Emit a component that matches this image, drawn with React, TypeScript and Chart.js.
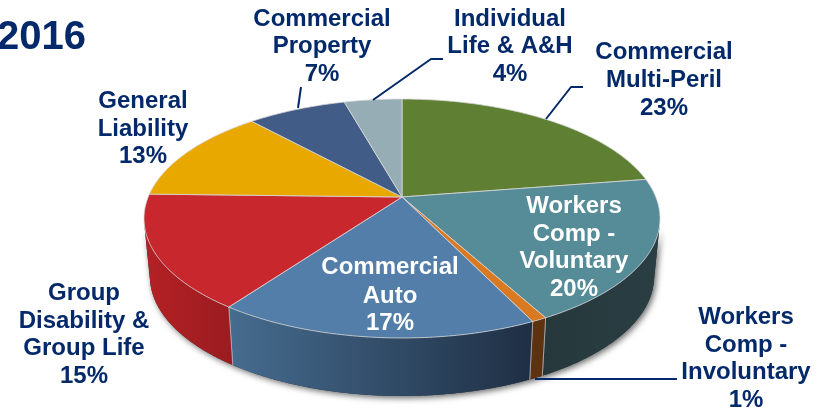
import React, { useEffect, useRef } from "react";
import { Chart, registerables } from "chart.js";

Chart.register(...registerables);

// ---- data ----
const categories = [
  "Commercial Multi-Peril",
  "Workers Comp - Voluntary",
  "Workers Comp - Involuntary",
  "Commercial Auto",
  "Group Disability & Group Life",
  "General Liability",
  "Commercial Property",
  "Individual Life & A&H",
];
const printedPercents = [23, 20, 1, 17, 15, 13, 7, 4];
const sliceSizes = [22.5, 19.6, 0.8, 17, 15.5, 12.9, 7.4, 4.3];
const yearLabel = "2016";

// ---- styles ----
const topColors = ["#5f8033", "#568b98", "#d97a22", "#537ea9", "#c8272d", "#e8a800", "#415c87", "#96adb5"];
const wallStart = ["#3c5120", "#2a3e43", "#5c3210", "#1f2f44", "#9a1c20", "#946b00", "#293a56", "#5f6e73"];
const wallEnd = ["#3c5120", "#26383c", "#5c3210", "#466c8f", "#b42125", "#946b00", "#293a56", "#5f6e73"];
const navy = "#04296b";
const labelFont = '"Liberation Sans", Arial, sans-serif';

const labelLayout = [
  { lines: ["Commercial", "Multi-Peril"], x: 664, y: [59, 87, 115], color: navy },
  { lines: ["Workers", "Comp -", "Voluntary"], x: 574, y: [213, 241, 268, 296], color: "#ffffff" },
  { lines: ["Workers", "Comp -", "Involuntary"], x: 746, y: [324, 352, 379, 407], color: navy },
  { lines: ["Commercial", "Auto"], x: 390, y: [274, 303, 330], color: "#ffffff" },
  { lines: ["Group", "Disability &", "Group Life"], x: 84, y: [300, 328, 355, 383], color: navy },
  { lines: ["General", "Liability"], x: 143, y: [108, 136, 163], color: navy },
  { lines: ["Commercial", "Property"], x: 322, y: [26, 53, 81], color: navy },
  { lines: ["Individual", "Life & A&H"], x: 510, y: [26, 53, 81], color: navy },
];

const leaders = [
  [[301, 87], [298, 108]],
  [[373, 100], [414, 71], [431, 59], [443, 59]],
  [[546, 119], [571, 87], [583, 87]],
  [[535, 379], [677, 379]],
];

// ---- projection of the unit pie onto the page ----
const CX = 402, CY = 197, P = 0.18, AY = 115.6, BX = 253.8;
const DEPTH = 58, BOTTOM_SCALE = 0.977;
const project = (a: number): [number, number] => {
  const u = Math.cos(a), v = Math.sin(a), k = 1 / (1 - P * v);
  return [CX + BX * u * k, CY + AY * v * k];
};
const projectLow = (a: number): [number, number] => {
  const [x, y] = project(a);
  return [CX + (x - CX) * BOTTOM_SCALE, y + DEPTH];
};
const STEP = Math.PI / 360;
const trace = (ctx: CanvasRenderingContext2D, f: (a: number) => [number, number], a0: number, a1: number, move: boolean) => {
  const n = Math.max(1, Math.ceil(Math.abs(a1 - a0) / STEP));
  for (let i = 0; i <= n; i++) {
    const [x, y] = f(a0 + ((a1 - a0) * i) / n);
    if (i === 0 && move) ctx.moveTo(x, y);
    else ctx.lineTo(x, y);
  }
};

const WALL_FROM = 0.23, WALL_TO = Math.PI - 0.23;

const pie3d = {
  id: "pie3d",
  beforeDatasetsDraw(chart: any) {
    const ctx: CanvasRenderingContext2D = chart.ctx;
    const arcs = chart.getDatasetMeta(0).data;
    ctx.save();
    // cast shadow under the whole body
    ctx.save();
    ctx.shadowColor = "rgba(0,0,0,0.6)";
    ctx.shadowBlur = 6;
    ctx.shadowOffsetX = 2;
    ctx.shadowOffsetY = 2;
    ctx.fillStyle = "#26383c";
    ctx.beginPath();
    trace(ctx, project, WALL_FROM, WALL_TO, true);
    trace(ctx, projectLow, WALL_TO, WALL_FROM, false);
    ctx.closePath();
    ctx.fill();
    ctx.restore();
    // side walls
    arcs.forEach((arc: any, i: number) => {
      const a0 = Math.max(arc.startAngle, WALL_FROM);
      const a1 = Math.min(arc.endAngle, WALL_TO);
      if (a1 <= a0) return;
      const xs = [project(a0)[0], project(a1)[0], projectLow(a0)[0], projectLow(a1)[0]];
      const g = ctx.createLinearGradient(Math.min(...xs), 0, Math.max(...xs), 0);
      g.addColorStop(0, wallEnd[i]);
      g.addColorStop(1, wallStart[i]);
      ctx.fillStyle = g;
      ctx.beginPath();
      trace(ctx, project, a0, a1, true);
      trace(ctx, projectLow, a1, a0, false);
      ctx.closePath();
      ctx.fill();
      ctx.strokeStyle = "rgba(205,205,205,0.75)";
      ctx.lineWidth = 0.8;
      ctx.beginPath();
      if (a0 > WALL_FROM) {
        ctx.moveTo(...project(a0));
        ctx.lineTo(...projectLow(a0));
      }
      if (a1 < WALL_TO) {
        ctx.moveTo(...project(a1));
        ctx.lineTo(...projectLow(a1));
      }
      ctx.stroke();
    });
    // top faces
    arcs.forEach((arc: any, i: number) => {
      ctx.fillStyle = topColors[i];
      ctx.strokeStyle = "rgba(215,215,215,0.8)";
      ctx.lineWidth = 1;
      ctx.beginPath();
      ctx.moveTo(CX, CY);
      trace(ctx, project, arc.startAngle, arc.endAngle, false);
      ctx.closePath();
      ctx.fill();
      ctx.stroke();
    });
    ctx.restore();
    return false; // the flat arcs are replaced by the projected ones
  },
  afterDraw(chart: any) {
    const ctx: CanvasRenderingContext2D = chart.ctx;
    ctx.save();
    ctx.strokeStyle = navy;
    ctx.lineWidth = 2;
    ctx.lineJoin = "round";
    leaders.forEach((pts) => {
      ctx.beginPath();
      pts.forEach(([x, y], i) => (i ? ctx.lineTo(x, y) : ctx.moveTo(x, y)));
      ctx.stroke();
    });
    ctx.textAlign = "center";
    ctx.textBaseline = "alphabetic";
    ctx.font = `bold 24px ${labelFont}`;
    labelLayout.forEach((l, i) => {
      ctx.fillStyle = l.color;
      [...l.lines, `${printedPercents[i]}%`].forEach((t, j) => ctx.fillText(t, l.x, l.y[j]));
    });
    ctx.textAlign = "left";
    ctx.fillStyle = navy;
    ctx.font = `bold 40px ${labelFont}`;
    ctx.fillText(yearLabel, -3, 49);
    ctx.restore();
  },
};

export default function App() {
  const ref = useRef<HTMLCanvasElement | null>(null);
  useEffect(() => {
    document.body.style.margin = "0";
    document.body.style.background = "#ffffff";
    const chart = new Chart(ref.current as HTMLCanvasElement, {
      type: "pie",
      data: {
        labels: categories,
        datasets: [{ data: sliceSizes, backgroundColor: topColors, borderWidth: 0 }],
      },
      options: {
        responsive: false,
        animation: false,
        plugins: { legend: { display: false }, tooltip: { enabled: false } },
      },
      plugins: [pie3d],
    } as any);
    return () => chart.destroy();
  }, []);
  return <canvas ref={ref} width={828} height={409} style={{ display: "block" }} />;
}
